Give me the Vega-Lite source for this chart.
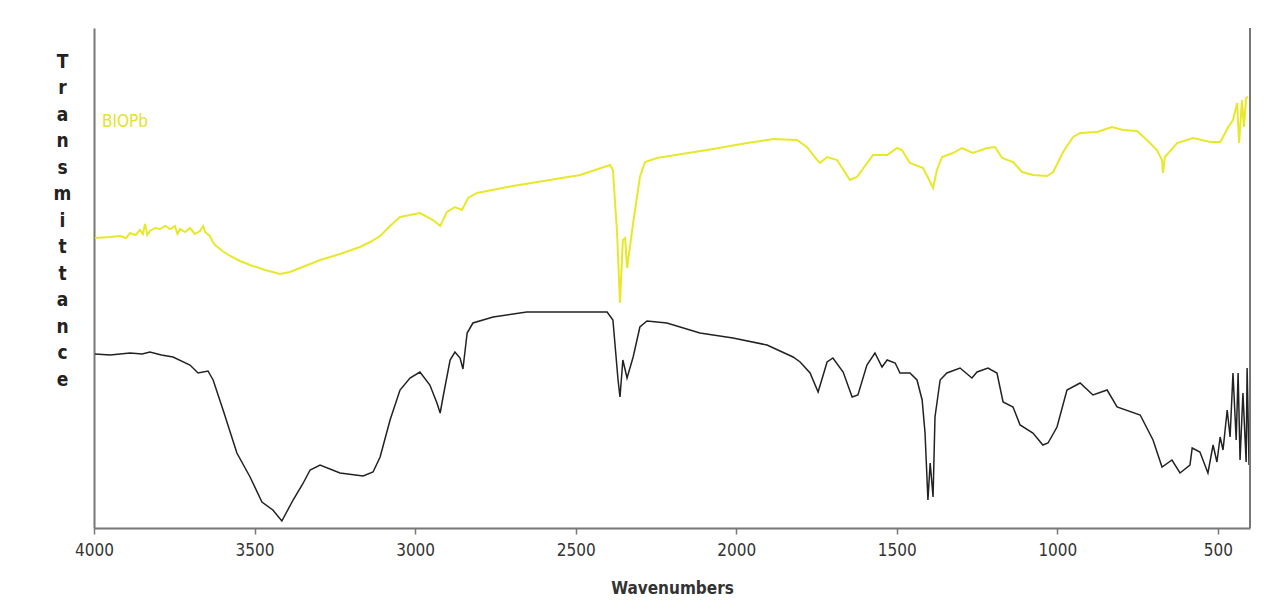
{
  "$schema": "https://vega.github.io/schema/vega-lite/v6.json",
  "width": 1156,
  "height": 500,
  "autosize": {"type": "none"},
  "padding": {"left": 94, "top": 28, "right": 35, "bottom": 82},
  "background": "white",
  "config": {"view": {"stroke": null}, "axis": {"grid": false}},
  "datasets": {
    "biopb": [
      {"w": 3997, "t": 290}, {"w": 3950, "t": 291}, {"w": 3919, "t": 292}, {"w": 3900, "t": 290}, {"w": 3888, "t": 295}, {"w": 3870, "t": 293}, {"w": 3857, "t": 298},
      {"w": 3848, "t": 294}, {"w": 3841, "t": 304}, {"w": 3834, "t": 293}, {"w": 3826, "t": 297}, {"w": 3810, "t": 300}, {"w": 3794, "t": 299}, {"w": 3778, "t": 302}, {"w": 3763, "t": 299},
      {"w": 3748, "t": 302}, {"w": 3740, "t": 294}, {"w": 3732, "t": 299}, {"w": 3716, "t": 296}, {"w": 3701, "t": 300}, {"w": 3686, "t": 294}, {"w": 3670, "t": 297}, {"w": 3660, "t": 302}, {"w": 3654, "t": 296},
      {"w": 3639, "t": 292}, {"w": 3630, "t": 286}, {"w": 3623, "t": 283}, {"w": 3600, "t": 277}, {"w": 3576, "t": 272}, {"w": 3545, "t": 267}, {"w": 3514, "t": 263},
      {"w": 3467, "t": 258}, {"w": 3421, "t": 254}, {"w": 3390, "t": 256}, {"w": 3358, "t": 260}, {"w": 3296, "t": 268},
      {"w": 3234, "t": 274}, {"w": 3172, "t": 281}, {"w": 3140, "t": 286}, {"w": 3109, "t": 292}, {"w": 3078, "t": 302}, {"w": 3047, "t": 311},
      {"w": 2985, "t": 315}, {"w": 2944, "t": 308}, {"w": 2922, "t": 302}, {"w": 2901, "t": 316},
      {"w": 2876, "t": 321}, {"w": 2854, "t": 318}, {"w": 2835, "t": 330}, {"w": 2807, "t": 335},
      {"w": 2695, "t": 342}, {"w": 2486, "t": 353}, {"w": 2393, "t": 363}, {"w": 2384, "t": 358},
      {"w": 2371, "t": 295}, {"w": 2362, "t": 225}, {"w": 2353, "t": 288}, {"w": 2346, "t": 290},
      {"w": 2340, "t": 260}, {"w": 2321, "t": 305}, {"w": 2300, "t": 351}, {"w": 2284, "t": 366},
      {"w": 2247, "t": 370}, {"w": 2072, "t": 379}, {"w": 1966, "t": 385}, {"w": 1885, "t": 389},
      {"w": 1811, "t": 388}, {"w": 1780, "t": 381}, {"w": 1748, "t": 368}, {"w": 1739, "t": 365},
      {"w": 1717, "t": 371}, {"w": 1686, "t": 368}, {"w": 1646, "t": 348}, {"w": 1624, "t": 351},
      {"w": 1574, "t": 373}, {"w": 1530, "t": 373}, {"w": 1499, "t": 380}, {"w": 1484, "t": 378},
      {"w": 1459, "t": 365}, {"w": 1418, "t": 360}, {"w": 1396, "t": 346}, {"w": 1387, "t": 340},
      {"w": 1375, "t": 358}, {"w": 1359, "t": 371}, {"w": 1325, "t": 375}, {"w": 1297, "t": 380},
      {"w": 1263, "t": 375}, {"w": 1219, "t": 380}, {"w": 1194, "t": 381}, {"w": 1172, "t": 370},
      {"w": 1138, "t": 366}, {"w": 1110, "t": 356}, {"w": 1076, "t": 353}, {"w": 1032, "t": 352},
      {"w": 1013, "t": 356}, {"w": 982, "t": 376}, {"w": 951, "t": 391}, {"w": 929, "t": 395},
      {"w": 876, "t": 396}, {"w": 830, "t": 401}, {"w": 795, "t": 398}, {"w": 752, "t": 397},
      {"w": 721, "t": 388}, {"w": 690, "t": 378}, {"w": 674, "t": 368}, {"w": 671, "t": 355},
      {"w": 665, "t": 371}, {"w": 627, "t": 385}, {"w": 577, "t": 390}, {"w": 524, "t": 386},
      {"w": 493, "t": 386}, {"w": 484, "t": 391}, {"w": 468, "t": 401}, {"w": 453, "t": 408},
      {"w": 440, "t": 425}, {"w": 434, "t": 385}, {"w": 425, "t": 428}, {"w": 419, "t": 401},
      {"w": 412, "t": 430}, {"w": 406, "t": 431}
    ],
    "black": [
      {"w": 3997, "t": 174}, {"w": 3950, "t": 173}, {"w": 3888, "t": 175}, {"w": 3850, "t": 174}, {"w": 3826, "t": 176}, {"w": 3790, "t": 173}, {"w": 3754, "t": 171},
      {"w": 3701, "t": 163}, {"w": 3676, "t": 155}, {"w": 3645, "t": 157}, {"w": 3629, "t": 148},
      {"w": 3598, "t": 118}, {"w": 3575, "t": 95}, {"w": 3555, "t": 75}, {"w": 3514, "t": 51}, {"w": 3477, "t": 26},
      {"w": 3443, "t": 18}, {"w": 3415, "t": 7}, {"w": 3380, "t": 28}, {"w": 3350, "t": 44}, {"w": 3327, "t": 58},
      {"w": 3296, "t": 63}, {"w": 3234, "t": 55}, {"w": 3162, "t": 52}, {"w": 3131, "t": 56},
      {"w": 3109, "t": 71}, {"w": 3078, "t": 108}, {"w": 3047, "t": 138}, {"w": 3016, "t": 150},
      {"w": 2985, "t": 156}, {"w": 2954, "t": 143}, {"w": 2932, "t": 125}, {"w": 2922, "t": 115},
      {"w": 2913, "t": 131}, {"w": 2891, "t": 168}, {"w": 2876, "t": 176}, {"w": 2860, "t": 170},
      {"w": 2851, "t": 159}, {"w": 2838, "t": 195}, {"w": 2820, "t": 205}, {"w": 2757, "t": 211},
      {"w": 2652, "t": 216}, {"w": 2527, "t": 216}, {"w": 2402, "t": 216}, {"w": 2384, "t": 208},
      {"w": 2368, "t": 148}, {"w": 2362, "t": 131}, {"w": 2353, "t": 168}, {"w": 2340, "t": 150},
      {"w": 2321, "t": 171}, {"w": 2300, "t": 201}, {"w": 2278, "t": 207}, {"w": 2216, "t": 205},
      {"w": 2113, "t": 195}, {"w": 2010, "t": 190}, {"w": 1904, "t": 183}, {"w": 1823, "t": 171},
      {"w": 1801, "t": 166}, {"w": 1770, "t": 155}, {"w": 1745, "t": 136}, {"w": 1717, "t": 166},
      {"w": 1699, "t": 170}, {"w": 1667, "t": 156}, {"w": 1639, "t": 131}, {"w": 1621, "t": 133},
      {"w": 1593, "t": 163}, {"w": 1568, "t": 175}, {"w": 1546, "t": 161}, {"w": 1530, "t": 168},
      {"w": 1505, "t": 165}, {"w": 1490, "t": 155}, {"w": 1459, "t": 155}, {"w": 1437, "t": 148},
      {"w": 1421, "t": 128}, {"w": 1412, "t": 95}, {"w": 1403, "t": 28}, {"w": 1396, "t": 65},
      {"w": 1387, "t": 31}, {"w": 1381, "t": 111}, {"w": 1365, "t": 148}, {"w": 1344, "t": 155},
      {"w": 1303, "t": 160}, {"w": 1266, "t": 150}, {"w": 1250, "t": 156}, {"w": 1216, "t": 160},
      {"w": 1188, "t": 155}, {"w": 1169, "t": 126}, {"w": 1138, "t": 121}, {"w": 1116, "t": 103},
      {"w": 1076, "t": 95}, {"w": 1045, "t": 83}, {"w": 1029, "t": 85}, {"w": 1001, "t": 101},
      {"w": 970, "t": 138}, {"w": 929, "t": 145}, {"w": 889, "t": 133}, {"w": 845, "t": 138},
      {"w": 814, "t": 121}, {"w": 742, "t": 113}, {"w": 702, "t": 88}, {"w": 674, "t": 61},
      {"w": 643, "t": 68}, {"w": 618, "t": 55}, {"w": 587, "t": 63}, {"w": 580, "t": 80},
      {"w": 556, "t": 76}, {"w": 531, "t": 55}, {"w": 515, "t": 83}, {"w": 503, "t": 66},
      {"w": 493, "t": 91}, {"w": 484, "t": 78}, {"w": 471, "t": 118}, {"w": 462, "t": 91},
      {"w": 453, "t": 155}, {"w": 443, "t": 88}, {"w": 437, "t": 155}, {"w": 431, "t": 68},
      {"w": 422, "t": 135}, {"w": 412, "t": 66}, {"w": 409, "t": 160}, {"w": 403, "t": 63}
    ],
    "labels": [{"label": "BIOPb", "w": 3975, "t": 406}],
    "edge": [{"w": 400}]
  },
  "layer": [
    {
      "data": {"name": "black"},
      "mark": {"type": "line", "color": "#222222", "strokeWidth": 1.5},
      "encoding": {
        "x": {
          "field": "w", "type": "quantitative",
          "scale": {"domain": [4000, 400], "nice": false, "zero": false},
          "axis": {
            "values": [4000, 3500, 3000, 2500, 2000, 1500, 1000, 500],
            "format": "d",
            "title": "Wavenumbers",
            "titleFont": "DejaVu Sans Condensed, Liberation Sans, sans-serif",
            "titleFontSize": 17,
            "titleFontWeight": "bold",
            "titleColor": "#333333",
            "titleBaseline": "top",
            "titleY": 52,
            "labelFont": "DejaVu Sans Condensed, Liberation Sans, sans-serif",
            "labelFontSize": 17,
            "labelColor": "#333333",
            "labelPadding": 8,
            "labelOverlap": false,
            "labelFlush": false,
            "tickSize": 6,
            "tickColor": "#777777",
            "tickWidth": 1.5,
            "domainColor": "#777777",
            "domainWidth": 2
          }
        },
        "y": {
          "field": "t", "type": "quantitative",
          "scale": {"domain": [0, 500], "nice": false, "zero": false},
          "axis": {
            "ticks": false,
            "labels": false,
            "domainColor": "#777777",
            "domainWidth": 2,
            "title": ["T", "r", "a", "n", "s", "m", "i", "t", "t", "a", "n", "c", "e"],
            "titleAngle": 0,
            "titleAlign": "center",
            "titleBaseline": "top",
            "titleX": -32,
            "titleY": 24,
            "titleLineHeight": 26.5,
            "titleFont": "DejaVu Sans Condensed, Liberation Sans, sans-serif",
            "titleFontSize": 19,
            "titleFontWeight": "bold",
            "titleColor": "#222222"
          }
        }
      }
    },
    {
      "data": {"name": "biopb"},
      "mark": {"type": "line", "color": "#e8e82a", "strokeWidth": 2},
      "encoding": {
        "x": {"field": "w", "type": "quantitative"},
        "y": {"field": "t", "type": "quantitative"}
      }
    },
    {
      "data": {"name": "labels"},
      "mark": {"type": "text", "align": "left", "baseline": "middle", "font": "DejaVu Sans Condensed, Liberation Sans, sans-serif", "fontSize": 17, "color": "#e3e32a"},
      "encoding": {
        "x": {"field": "w", "type": "quantitative"},
        "y": {"field": "t", "type": "quantitative"},
        "text": {"field": "label"}
      }
    },
    {
      "data": {"name": "edge"},
      "mark": {"type": "rule", "color": "#777777", "strokeWidth": 2},
      "encoding": {
        "x": {"field": "w", "type": "quantitative"}
      }
    }
  ]
}
